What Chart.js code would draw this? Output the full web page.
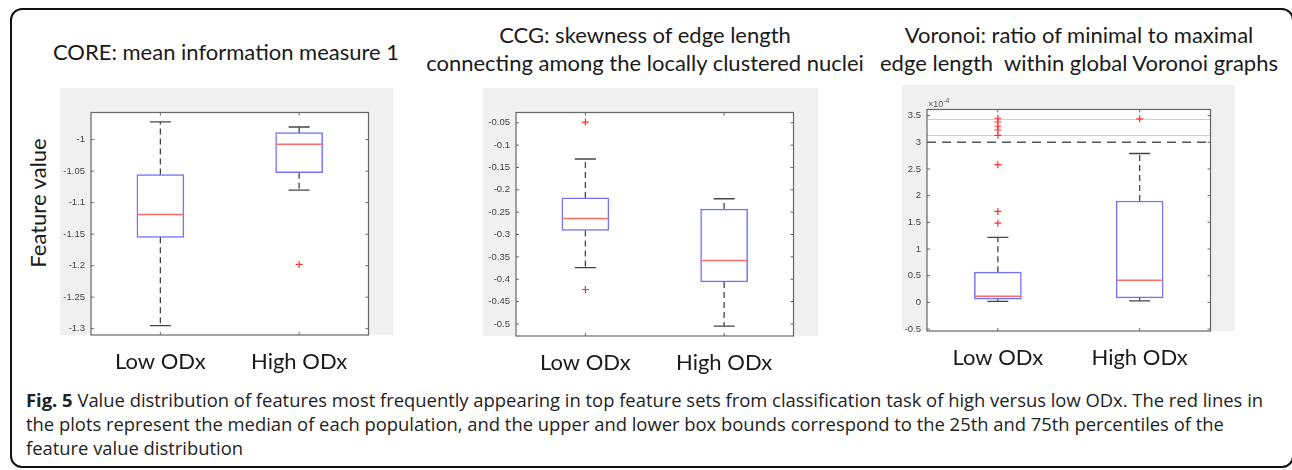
<!DOCTYPE html>
<html lang="en">
<head>
<meta charset="UTF-8">
<title>Fig. 5 – feature value distributions</title>
<style>
  body {
    margin: 0;
    width: 1292px;
    height: 470px;
    position: relative;
    overflow: hidden;
    background: #fff;
    font-family: Lato, 'Open Sans', sans-serif;
    color: #1a1a1a;
  }
  .frame {
    position: absolute;
    left: 10px; top: 8px;
    width: 1284px; height: 460px;
    box-sizing: border-box;
    border: 2px solid #111;
    border-radius: 12px;
  }
  .title {
    position: absolute;
    font-size: 22px;
    line-height: 28px;
    text-align: center;
    white-space: nowrap;
    transform: translateX(-50%);
  }
  .ylabel {
    position: absolute;
    left: 37px; top: 203px;
    font-size: 22px;
    white-space: nowrap;
    transform: translate(-50%, -50%) rotate(-90deg);
  }
  canvas { position: absolute; }
  .caption {
    position: absolute;
    left: 26px; top: 388px;
    font-family: 'Open Sans', sans-serif;
    font-size: 18.4px;
    line-height: 24px;
    color: #222;
    white-space: nowrap;
  }
</style>
<script src="https://cdn.jsdelivr.net/npm/chart.js"></script>
</head>
<body>
  <div class="frame"></div>

  <div class="title" style="left:226px; top:38px;">CORE: mean information measure 1</div>
  <div class="title" style="left:645px; top:21px;">CCG: skewness of edge length<br>connecting among the locally clustered nuclei</div>
  <div class="title" style="left:1079px; top:21px;">Voronoi: ratio of minimal to maximal<br>edge length&nbsp; within global Voronoi graphs</div>
  <div class="ylabel">Feature value</div>

  <canvas id="core" width="333" height="290" style="left:60px; top:88px;"></canvas>
  <canvas id="ccg" width="335" height="290" style="left:483px; top:88px;"></canvas>
  <canvas id="vor" width="333" height="293" style="left:902px; top:85px;"></canvas>

  <div class="caption">
    <b>Fig. 5</b> Value distribution of features most frequently appearing in top feature sets from classification task of high versus low ODx. The red lines in<br>
    the plots represent the median of each population, and the upper and lower box bounds correspond to the 25th and 75th percentiles of the<br>
    feature value distribution
  </div>

  <script>
    const categories = ['Low ODx', 'High ODx'];

    // CORE: mean information measure 1
    const coreLowerWhisker = [-1.295, -1.080];
    const coreQ1 = [-1.155, -1.0525];
    const coreMedian = [-1.119, -1.0074];
    const coreQ3 = [-1.0555, -0.989];
    const coreUpperWhisker = [-0.972, -0.980];
    const coreOutliers = [[], [-1.198]];
    const coreTicks = [-1.3, -1.25, -1.2, -1.15, -1.1, -1.05, -1];
    const coreLimits = [-1.31, -0.957];

    // CCG: skewness of edge length
    const ccgLowerWhisker = [-0.374, -0.505];
    const ccgQ1 = [-0.291, -0.406];
    const ccgMedian = [-0.264, -0.358];
    const ccgQ3 = [-0.218, -0.243];
    const ccgUpperWhisker = [-0.131, -0.220];
    const ccgOutliers = [[-0.0485, -0.423], []];
    const ccgTicks = [-0.5, -0.45, -0.4, -0.35, -0.3, -0.25, -0.2, -0.15, -0.1, -0.05];
    const ccgLimits = [-0.527, -0.027];

    // Voronoi min/max edge ratio (units of 10^-4)
    const vorLowerWhisker = [0.018, 0.03];
    const vorQ1 = [0.06, 0.084];
    const vorMedian = [0.113, 0.417];
    const vorQ3 = [0.567, 1.90];
    const vorUpperWhisker = [1.22, 2.79];
    const vorOutliers = [[3.45, 3.38, 3.30, 3.23, 3.13, 2.58, 1.705, 1.485], [3.44]];
    const vorTicks = [-0.5, 0, 0.5, 1, 1.5, 2, 2.5, 3, 3.5];
    const vorLimits = [-0.536, 3.614];
    const vorDashedLines = [3.0];
    const vorThinLines = [3.43, 3.13];

    // matlab-ish look: grey figure bg, boxed axes, ticks pointing inwards
    function axesPlugin(extra) {
      return {
        id: 'matlabAxes',
        beforeDraw(chart) {
          const { ctx, chartArea: a, width } = chart;
          ctx.save();
          ctx.fillStyle = '#f0f0f0';
          ctx.fillRect(0, 0, width, a.bottom);
          ctx.fillStyle = '#fff';
          ctx.fillRect(a.left, a.top, a.right - a.left, a.bottom - a.top);
          ctx.restore();
        },
        beforeDatasetsDraw(chart) {
          if (!extra) return;
          const { ctx, chartArea: a, scales } = chart;
          ctx.save();
          ctx.lineWidth = 1;
          ctx.strokeStyle = '#cfcfcf';
          (extra.thin || []).forEach(v => {
            const y = Math.round(scales.y.getPixelForValue(v)) + 0.5;
            ctx.beginPath(); ctx.moveTo(a.left, y); ctx.lineTo(a.right, y); ctx.stroke();
          });
          ctx.strokeStyle = '#555';
          ctx.lineWidth = 1.5;
          ctx.setLineDash([9, 6]);
          (extra.dashed || []).forEach(v => {
            const y = scales.y.getPixelForValue(v);
            ctx.beginPath(); ctx.moveTo(a.left, y); ctx.lineTo(a.right, y); ctx.stroke();
          });
          ctx.restore();
        },
        afterDraw(chart) {
          const { ctx, chartArea: a, scales } = chart;
          ctx.save();
          ctx.strokeStyle = '#666';
          ctx.lineWidth = 1.2;
          ctx.strokeRect(a.left, a.top, a.right - a.left, a.bottom - a.top);
          ctx.lineWidth = 1;
          ctx.beginPath();
          scales.y.ticks.forEach(t => {
            const y = scales.y.getPixelForValue(t.value);
            ctx.moveTo(a.left, y); ctx.lineTo(a.left + 3, y);
            ctx.moveTo(a.right, y); ctx.lineTo(a.right - 3, y);
          });
          categories.forEach((c, i) => {
            const x = scales.x.getPixelForValue(i);
            ctx.moveTo(x, a.top); ctx.lineTo(x, a.top + 3);
            ctx.moveTo(x, a.bottom); ctx.lineTo(x, a.bottom - 3);
          });
          ctx.stroke();
          if (extra && extra.exponent) {
            ctx.fillStyle = '#555';
            ctx.font = '9px "Liberation Sans", Arial, sans-serif';
            ctx.textBaseline = 'alphabetic';
            ctx.fillText('\u00d710', a.left + 1, a.top - 3);
            const w = ctx.measureText('\u00d710').width;
            ctx.font = '7px "Liberation Sans", Arial, sans-serif';
            ctx.fillText(extra.exponent, a.left + 1 + w, a.top - 7);
          }
          ctx.restore();
        }
      };
    }

    function boxChart(id, lo, q1, med, q3, hi, outliers, ticks, limits, sizes, extra) {
      const pt = (i, v) => ({ x: categories[i], y: v });
      const boxes = [], whiskers = [], caps = [], medians = [], outs = [];
      categories.forEach((c, i) => {
        boxes.push({ x: c, y: [q1[i], q3[i]] });
        whiskers.push(pt(i, q3[i]), pt(i, hi[i]), pt(i, null), pt(i, q1[i]), pt(i, lo[i]), pt(i, null));
        caps.push(pt(i, hi[i]), pt(i, lo[i]));
        medians.push(pt(i, med[i]));
        outliers[i].forEach(v => outs.push(pt(i, v)));
      });

      new Chart(document.getElementById(id), {
        type: 'bar',
        data: {
          labels: categories,
          datasets: [
            {
              type: 'bar', data: boxes, order: 3,
              backgroundColor: '#fff', borderColor: '#7373ff', borderWidth: 1.5,
              borderSkipped: false, barThickness: 47, grouped: false
            },
            {
              type: 'line', data: whiskers, order: 2,
              borderColor: '#444', borderWidth: 1.3, borderDash: [6, 4],
              pointRadius: 0, spanGaps: false
            },
            {
              type: 'line', data: caps, order: 1, showLine: false,
              pointStyle: 'line', pointRadius: 10.5,
              borderColor: '#444', pointBorderColor: '#444', pointBorderWidth: 1.3
            },
            {
              type: 'line', data: medians, order: 1, showLine: false,
              pointStyle: 'line', pointRadius: 23,
              borderColor: '#ff6b6b', pointBorderColor: '#ff6b6b', pointBorderWidth: 1.5
            },
            {
              type: 'line', data: outs, order: 0, showLine: false,
              pointStyle: 'cross', pointRadius: 3.5,
              borderColor: '#ff3030', pointBorderColor: '#ff3030', pointBorderWidth: 1.2
            }
          ]
        },
        options: {
          responsive: false,
          animation: false,
          events: [],
          layout: { padding: { top: sizes.top, right: 2, left: 0, bottom: 0 } },
          plugins: { legend: { display: false }, tooltip: { enabled: false } },
          scales: {
            x: {
              type: 'category',
              offset: true,
              grid: { display: false, drawTicks: false },
              border: { display: false },
              ticks: {
                color: '#1a1a1a',
                padding: 14,
                font: { family: 'Lato', size: 22 }
              },
              afterFit: s => { s.height = sizes.xh; }
            },
            y: {
              min: limits[0], max: limits[1],
              grid: { display: false, drawTicks: false },
              border: { display: false },
              afterBuildTicks: s => { s.ticks = ticks.map(v => ({ value: v })); },
              ticks: {
                color: '#444',
                padding: 6,
                font: { family: 'Liberation Sans', size: 9.5 },
                callback: v => String(v)
              },
              afterFit: s => { s.width = sizes.yw; }
            }
          }
        },
        plugins: [axesPlugin(extra)]
      });
    }

    boxChart('core', coreLowerWhisker, coreQ1, coreMedian, coreQ3, coreUpperWhisker, coreOutliers,
      coreTicks, coreLimits, { top: 10, yw: 31, xh: 43 });
    boxChart('ccg', ccgLowerWhisker, ccgQ1, ccgMedian, ccgQ3, ccgUpperWhisker, ccgOutliers,
      ccgTicks, ccgLimits, { top: 10, yw: 33, xh: 42 });
    boxChart('vor', vorLowerWhisker, vorQ1, vorMedian, vorQ3, vorUpperWhisker, vorOutliers,
      vorTicks, vorLimits, { top: 14, yw: 25, xh: 47 },
      { dashed: vorDashedLines, thin: vorThinLines, exponent: '-4' });
  </script>
</body>
</html>
